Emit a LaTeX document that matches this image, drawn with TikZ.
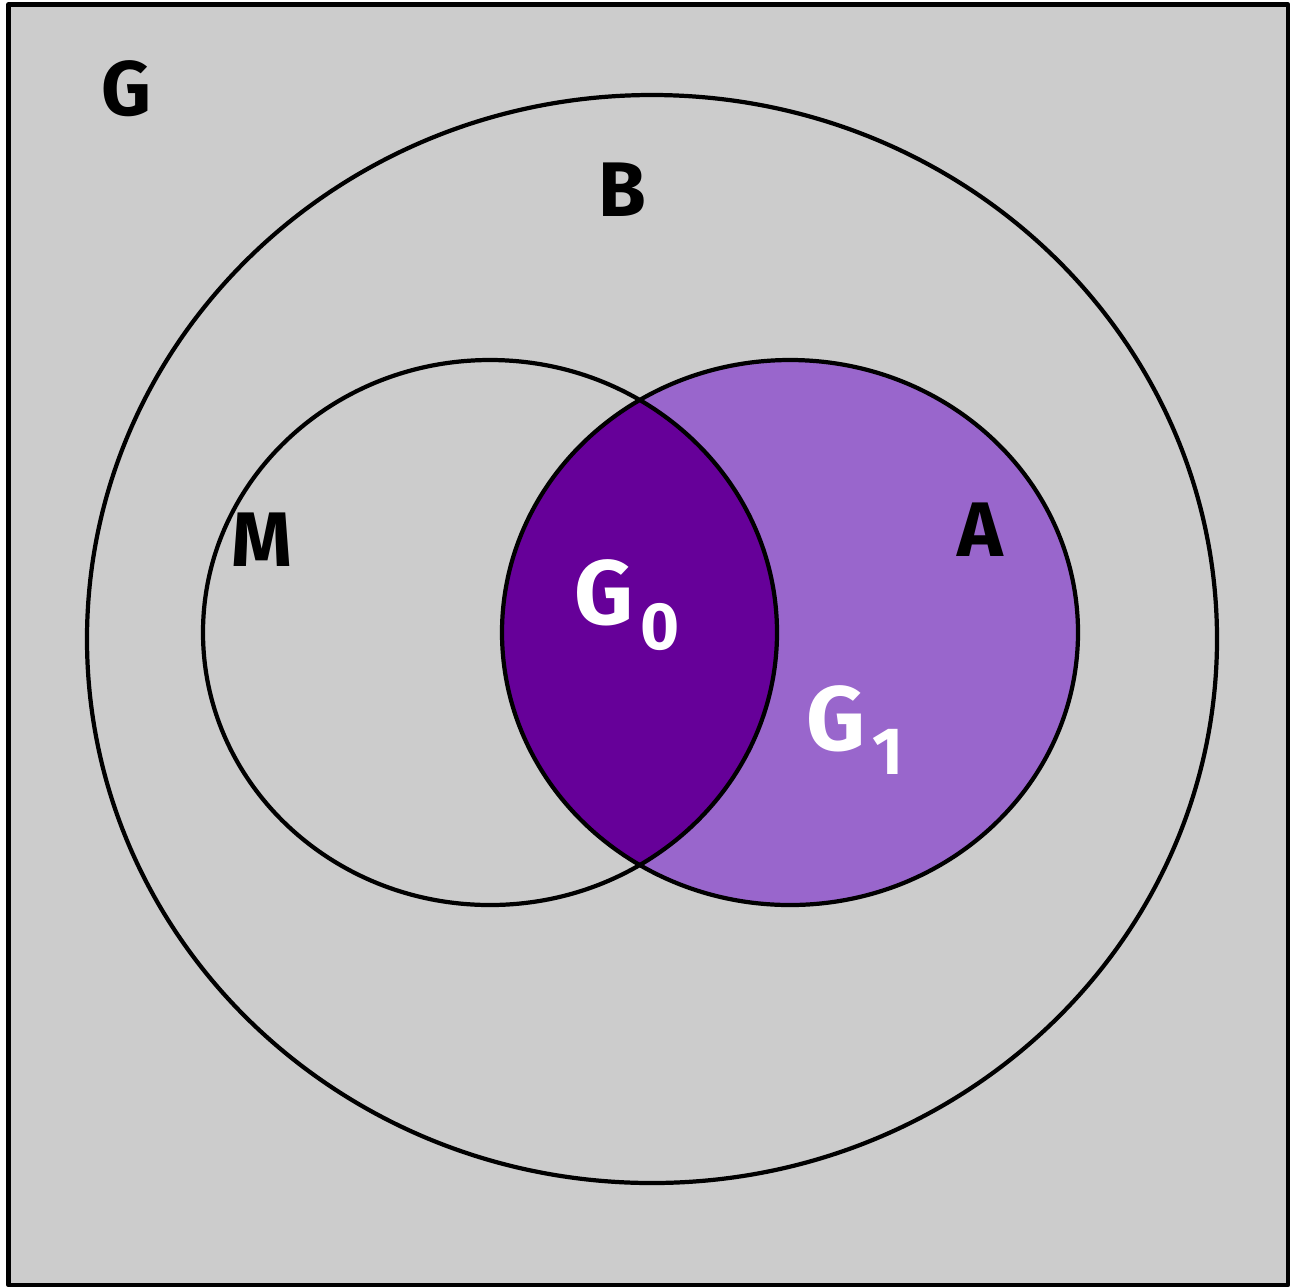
\documentclass[tikz,border=0pt]{standalone}
\usepackage{fontspec}
\setmainfont{Fira Sans}
\definecolor{bggray}{HTML}{CCCCCC}
\definecolor{lightpurple}{HTML}{9966CC}
\definecolor{darkpurple}{HTML}{660099}
\newcommand{\lowsub}[1]{\kern2pt\raisebox{-7pt}{\fontsize{19}{19}\selectfont #1}}
\tikzset{
  setline/.style={line width=1.2pt},
  setlabel/.style={font=\bfseries\fontsize{22}{22}\selectfont},
  innerlabel/.style={text=white, font=\bfseries\fontsize{26}{26}\selectfont}
}
\begin{document}
\begin{tikzpicture}[x=0.01cm, y=-0.01cm, line join=round, line cap=round]
	\useasboundingbox (0,0) rectangle (1291,1287);
	% universe
	\fill[bggray] (8.5,4.5) rectangle (1288,1285);
	\draw[line width=1.3pt] (8.5,4.5) rectangle (1288,1285);
	% A, and its common part with M
	\fill[lightpurple] (790,632.5) ellipse [x radius=288, y radius=272.5];
	\begin{scope}
		\clip (490,632.5) ellipse [x radius=287, y radius=272.5];
		\fill[darkpurple] (790,632.5) ellipse [x radius=288, y radius=272.5];
	\end{scope}
	% outlines
	\draw[setline] (652,639) ellipse [x radius=565, y radius=544];
	\draw[setline] (490,632.5) ellipse [x radius=287, y radius=272.5];
	\draw[setline] (790,632.5) ellipse [x radius=288, y radius=272.5];
	% names
	\node[setlabel] (lblG) at (126,89) {G};
	\node[setlabel] (lblB) at (622,190) {B};
	\node[setlabel] (lblM) at (262,540) {M};
	\node[setlabel] (lblA) at (980,530) {A};
	\node[innerlabel] (lblGzero) at (627,605) {G\lowsub{0}};
	\node[innerlabel] (lblGone) at (855,730) {G\lowsub{1}};
\end{tikzpicture}
\end{document}
